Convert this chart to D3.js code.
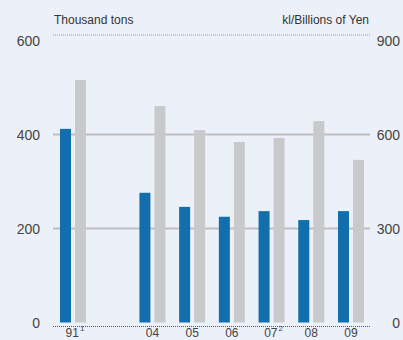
<!DOCTYPE html>
<html><head><meta charset="utf-8">
<script src="https://cdn.jsdelivr.net/npm/d3@7"></script>
<style>
html,body{margin:0;padding:0;background:#ECF0F8;}
svg{display:block;font-family:"Liberation Sans",Arial,Helvetica,sans-serif;}
</style></head>
<body>
<svg id="chart" width="403" height="340"></svg>
<script>
const categories = ["91", "gap", "04", "05", "06", "07", "08", "09"];
const labels = {"91": ["91", "1"], "04": ["04", ""], "05": ["05", ""], "06": ["06", ""], "07": ["07", "2"], "08": ["08", ""], "09": ["09", ""]};
const years = ["91", "04", "05", "06", "07", "08", "09"];
const tons = [412, 276, 246, 225, 237, 218, 237];   // Thousand tons (left axis)
const yen = [774, 691, 614, 576, 589, 643, 519];    // kl / Billions of Yen (right axis)
const leftTicks = [0, 200, 400, 600];
const rightTicks = [0, 300, 600, 900];
const leftTitle = "Thousand tons";
const rightTitle = "kl/Billions of Yen";

const svg = d3.select("#chart");
const x0 = 53, x1 = 370, yZero = 322.5, yTop = 40.5;

const x = d3.scaleBand().domain(categories).range([60, 364]).paddingInner(0.345).paddingOuter(0);
const xi = d3.scaleBand().domain(["tons", "yen"]).range([0, x.bandwidth()]).paddingInner(0.267).paddingOuter(0);
const yL = d3.scaleLinear().domain([0, 600]).range([yZero, yTop]);
const yR = d3.scaleLinear().domain([0, 900]).range([yZero, yTop]);

// header rule
svg.append("line").attr("x1", x0).attr("x2", x1).attr("y1", 35).attr("y2", 35)
  .attr("stroke", "#9a9ca0").attr("stroke-width", 1).attr("stroke-dasharray", "1,1");

// grid lines
svg.append("g").selectAll("line").data([200, 400]).join("line")
  .attr("x1", x0).attr("x2", x1)
  .attr("y1", d => yL(d)).attr("y2", d => yL(d))
  .attr("stroke", "#BDBEC1").attr("stroke-width", 2);

// titles
svg.append("text").attr("x", 54).attr("y", 24).attr("font-size", 12).attr("fill", "#333").text(leftTitle);
svg.append("text").attr("x", 369).attr("y", 24).attr("font-size", 12).attr("fill", "#333")
  .attr("text-anchor", "end").text(rightTitle);

// left axis
const axL = d3.axisLeft(yL).tickValues(leftTicks).tickSize(0).tickPadding(0);
const gL = svg.append("g").attr("transform", "translate(40,0)").call(axL);
gL.select(".domain").remove();
gL.selectAll("text").attr("font-size", 14).attr("fill", "#444").attr("font-family", "Liberation Sans, Arial, sans-serif")
  .attr("dy", "0.35em");

// right axis
const axR = d3.axisLeft(yR).tickValues(rightTicks).tickSize(0).tickPadding(0);
const gR = svg.append("g").attr("transform", "translate(400,0)").call(axR);
gR.select(".domain").remove();
gR.selectAll("text").attr("font-size", 14).attr("fill", "#444").attr("font-family", "Liberation Sans, Arial, sans-serif")
  .attr("dy", "0.35em");

// bars
const data = years.map((yr, i) => ({yr, tons: tons[i], yen: yen[i]}));
const groups = svg.append("g").selectAll("g").data(data).join("g")
  .attr("transform", d => `translate(${x(d.yr)},0)`);
groups.append("rect").attr("x", xi("tons")).attr("width", xi.bandwidth())
  .attr("y", d => yL(d.tons)).attr("height", d => yZero - yL(d.tons)).attr("fill", "#136EAD");
groups.append("rect").attr("x", xi("yen")).attr("width", xi.bandwidth())
  .attr("y", d => yR(d.yen)).attr("height", d => yZero - yR(d.yen)).attr("fill", "#C8C9CB");

// baseline
svg.append("line").attr("x1", x0).attr("x2", x1).attr("y1", 326.5).attr("y2", 326.5)
  .attr("stroke", "#555").attr("stroke-width", 1).attr("stroke-dasharray", "1,1");

// x labels
const xl = svg.append("g").selectAll("text").data(years).join("text")
  .attr("x", d => x(d) + x.bandwidth() / 2 + (labels[d][1] ? 2 : 0))
  .attr("y", 336.5).attr("text-anchor", "middle").attr("font-size", 12).attr("fill", "#444");
xl.append("tspan").text(d => labels[d][0]);
xl.append("tspan").attr("font-size", 8).attr("dy", -6).attr("dx", 1).text(d => labels[d][1]);
</script>
</body></html>
